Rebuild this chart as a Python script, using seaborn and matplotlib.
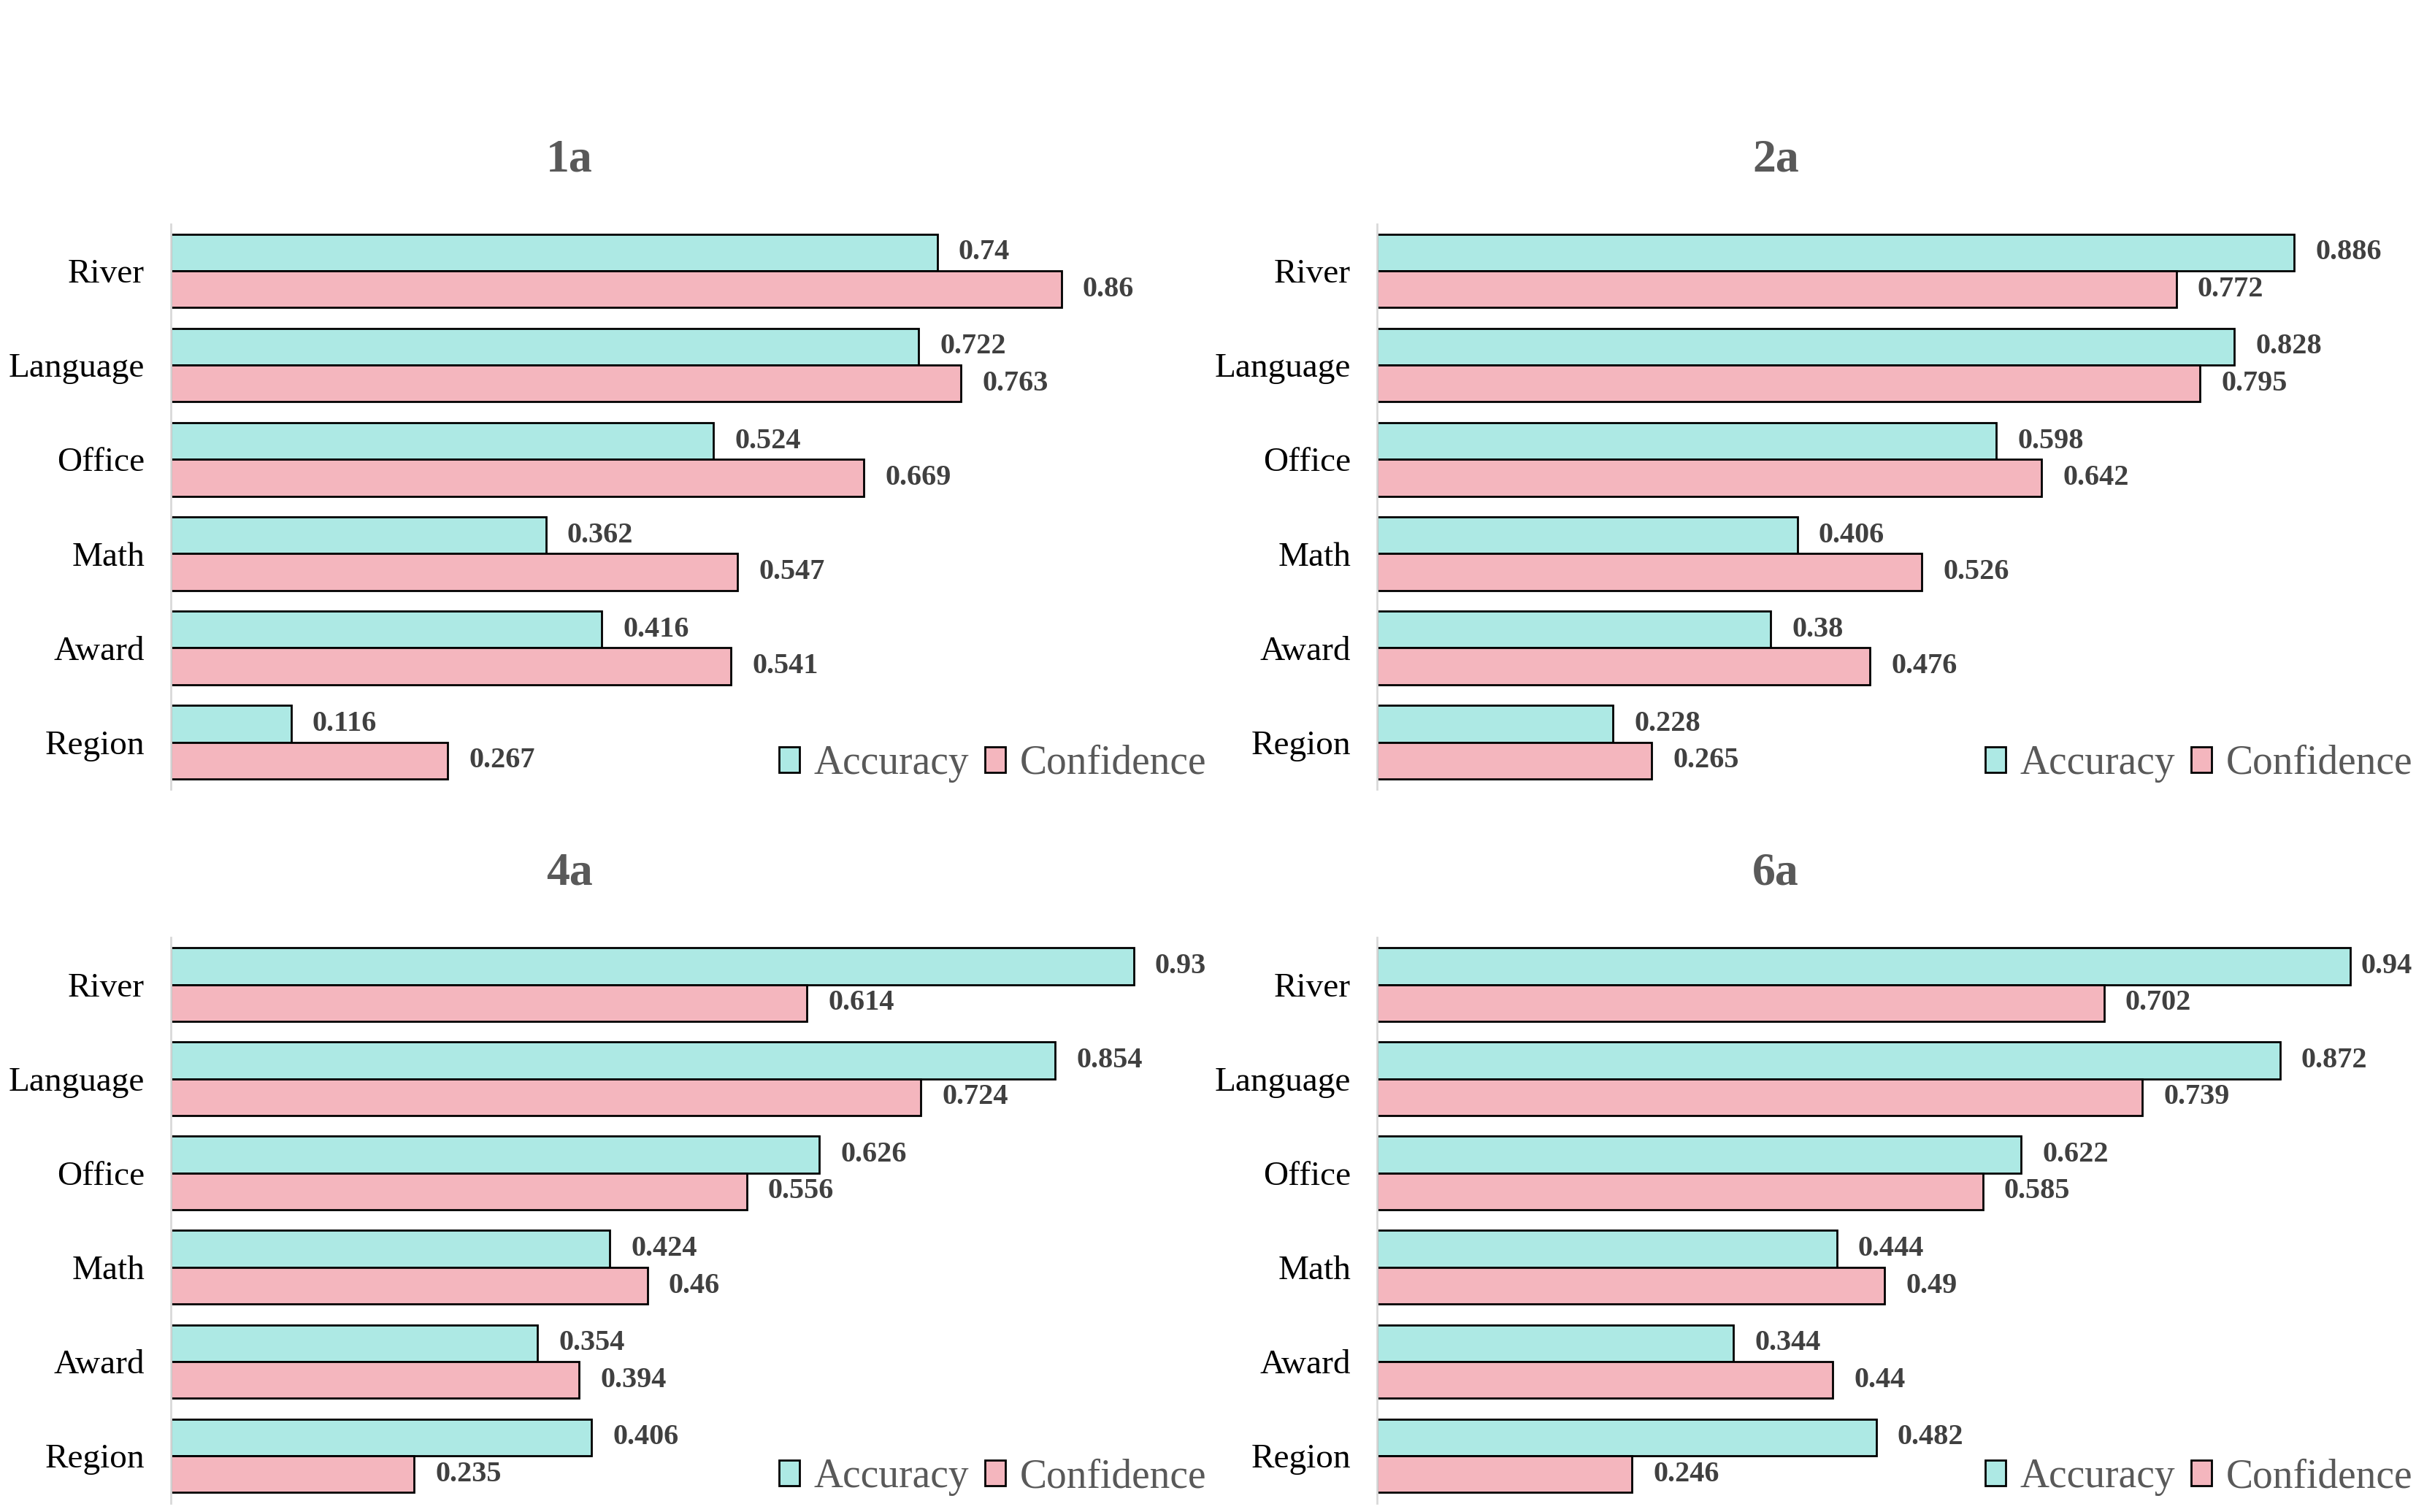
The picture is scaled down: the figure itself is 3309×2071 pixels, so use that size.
import pandas as pd
import matplotlib.pyplot as plt
import seaborn as sns
import numpy as np

# Данные
categories = ['River', 'Language', 'Office', 'Math', 'Award', 'Region']
panel_names = ['1a', '2a', '4a', '6a']

acc_1a = [0.74, 0.722, 0.524, 0.362, 0.416, 0.116]
conf_1a = [0.86, 0.763, 0.669, 0.547, 0.541, 0.267]
acc_2a = [0.886, 0.828, 0.598, 0.406, 0.38, 0.228]
conf_2a = [0.772, 0.795, 0.642, 0.526, 0.476, 0.265]
acc_4a = [0.93, 0.854, 0.626, 0.424, 0.354, 0.406]
conf_4a = [0.614, 0.724, 0.556, 0.46, 0.394, 0.235]
acc_6a = [0.94, 0.872, 0.622, 0.444, 0.344, 0.482]
conf_6a = [0.702, 0.739, 0.585, 0.49, 0.44, 0.246]

panels = {
    '1a': (acc_1a, conf_1a),
    '2a': (acc_2a, conf_2a),
    '4a': (acc_4a, conf_4a),
    '6a': (acc_6a, conf_6a),
}

sns.set_style("white")
plt.rcParams['font.family'] = ['Liberation Serif', 'DejaVu Serif']

palette = {'Accuracy': '#ADE9E4', 'Confidence': '#F4B6BE'}

fig = plt.figure(figsize=(16.545, 10.355), dpi=200)

# позиции осей [left, bottom, width, height]
positions = {
    '1a': [0.0708, 0.478, 0.4285, 0.374],
    '2a': [0.5700, 0.478, 0.4285, 0.374],
    '4a': [0.0708, 0.006, 0.4285, 0.374],
    '6a': [0.5700, 0.006, 0.4285, 0.374],
}

label_texts = []
for name in panel_names:
    acc, conf = panels[name]
    df = pd.DataFrame({
        'Category': categories * 2,
        'Value': acc + conf,
        'Metric': ['Accuracy'] * len(categories) + ['Confidence'] * len(categories),
    })
    ax = fig.add_axes(positions[name])
    sns.barplot(data=df, y='Category', x='Value', hue='Metric', orient='h',
                palette=palette, width=0.78, edgecolor='black', linewidth=1.0,
                saturation=1, ax=ax)
    ax.set_xlim(0, 1.0)
    ax.set_ylim(5.5, -0.5)
    ax.set_xlabel('')
    ax.set_ylabel('')
    ax.set_xticks([])
    ax.tick_params(axis='y', length=0, pad=13, labelsize=17, labelcolor='black')
    for s in ['top', 'right', 'bottom']:
        ax.spines[s].set_visible(False)
    ax.spines['left'].set_color('#D9D9D9')
    ax.spines['left'].set_linewidth(1.0)

    ax.set_title(name, x=0.385, pad=26, fontsize=23, fontweight='bold', color='#595959')

    # подписи значений
    for cont in ax.containers:
        for bar in cont:
            w = bar.get_width()
            yc = bar.get_y() + bar.get_height() / 2
            t = ax.annotate(f'{w:g}', xy=(w, yc), xytext=(10.5, 0), textcoords='offset points',
                            ha='left', va='center', fontsize=14.5, fontweight='bold',
                            color='#404040')
            label_texts.append((ax, t))

    leg = ax.legend(loc='lower right', bbox_to_anchor=(1.0, 0.012), ncol=2, frameon=False,
                    fontsize=20, handlelength=0.5, handleheight=0.6, handletextpad=0.35,
                    columnspacing=0.4, borderaxespad=0.0, borderpad=0.0)
    for txt in leg.get_texts():
        txt.set_color('#595959')

# не даём подписям выходить за правый край осей
fig.canvas.draw()
renderer = fig.canvas.get_renderer()
for ax, t in label_texts:
    bb = t.get_window_extent(renderer)
    ax_right = ax.get_window_extent(renderer).x1
    if bb.x1 > ax_right:
        shift_pt = (bb.x1 - ax_right) * 72 / fig.dpi
        t.xyann = (t.xyann[0] - shift_pt, t.xyann[1])

fig.savefig('out.png', dpi=200, facecolor='white')
